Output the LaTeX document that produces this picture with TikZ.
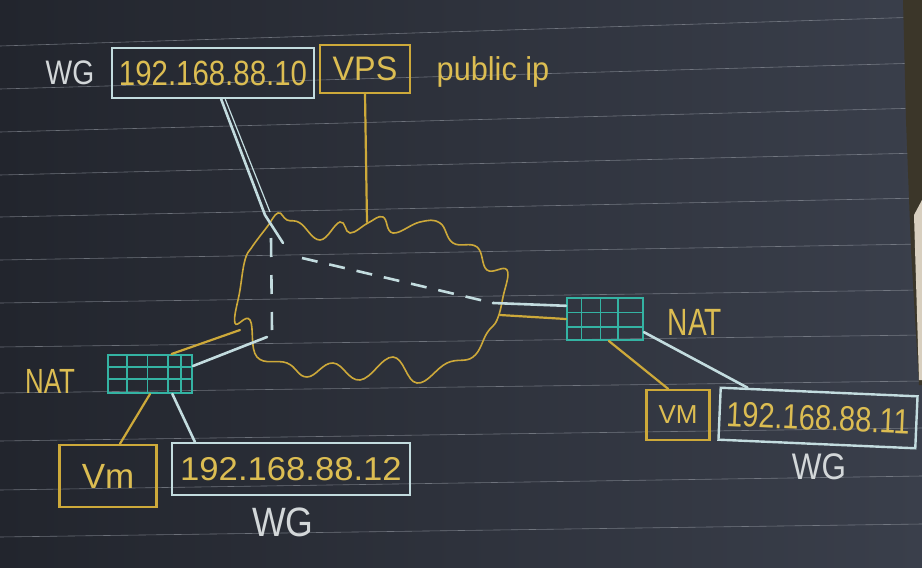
\documentclass[tikz,border=0pt]{standalone}
\usepackage{fontspec}
\usepackage{graphicx}
\setmainfont{Liberation Sans}
\usetikzlibrary{calc}
\definecolor{bgL}{HTML}{22252D}
\definecolor{bgR}{HTML}{3A3F4B}
\definecolor{ruleC}{HTML}{9A9FA8}
\definecolor{chalkY}{HTML}{CDA93A}
\definecolor{textY}{HTML}{DCBD52}
\definecolor{chalkB}{HTML}{C3DCDF}
\definecolor{chalkW}{HTML}{D3D7D9}
\definecolor{tealC}{HTML}{34B3A3}
\definecolor{edgeC}{HTML}{3B3629}
\definecolor{beigeC}{HTML}{D8CFBF}
\newcommand{\hs}[2]{\scalebox{#1}[1]{#2}}
\tikzset{
  ruled/.style={draw=ruleC, line width=0.6pt, opacity=0.6},
  ybox/.style={draw=chalkY, line width=2.2pt, inner sep=0pt, text=textY},
  bbox/.style={draw=chalkB, line width=2.4pt, inner sep=0pt, text=textY},
  ylab/.style={text=textY, inner sep=0pt},
  wlab/.style={text=chalkW, inner sep=0pt},
  yline/.style={draw=chalkY, line width=2.2pt, line cap=round},
  bline/.style={draw=chalkB, line width=2.6pt, line cap=round},
  natbox/.style={draw=tealC, line width=2pt, inner sep=0pt},
  natgrid/.style={draw=tealC, line width=1.6pt},
}
\begin{document}
\begin{tikzpicture}[x=1pt,y=-1pt]
\useasboundingbox (0,0) rectangle (922,568);
\shade[left color=bgL, right color=bgR] (0,0) rectangle (922,568);
% ruled lines
\foreach \a/\b in {46/17, 89/63, 132/108, 175/153, 217/198, 260/244, 303/290, 347/335, 393/381, 441/428, 490/476, 537/524}
  \path[ruled] (0,\a) -- (922,\b);
% paper edge
\fill[edgeC] (903,0) -- (922,0) -- (922,385) -- (919,385) -- (911,250) -- (906,120) -- cycle;
\fill[beigeC] (914,215) -- (922,200) -- (922,380) -- (919,380) -- cycle;

% top row
\node[wlab, font=\fontsize{34}{36}\selectfont] (wgtop) at (70,73) {\hs{0.83}{WG}};
\node[bbox, minimum width=202pt, minimum height=50pt, font=\fontsize{35}{36}\selectfont] (wg10) at (213,73) {\hs{0.84}{192.168.88.10}};
\node[ybox, minimum width=90pt, minimum height=48pt, font=\fontsize{34}{36}\selectfont] (vps) at (365,69) {\hs{0.95}{VPS}};
\node[ylab, font=\fontsize{33}{36}\selectfont] (pubip) at (493,72) {\hs{0.93}{public ip}};

% cloud
\draw[draw=chalkY, line width=1.6pt] plot[smooth cycle, tension=0.7] coordinates {
 (278,213) (267,227) (252,247) (245,260) (240,290) (235,323) (250,320) (257,357)
 (287,363) (307,377) (333,363) (360,380) (393,357) (417,383) (447,363) (473,357)
 (487,333) (497,320) (503,297) (507,270) (487,270) (477,247) (453,243) (440,223)
 (420,222) (393,233) (383,217) (368,223) (350,233) (340,222) (320,240) (300,223) (287,220)};
\coordinate (cTop) at (367,222);
\coordinate (cTL) at (283,243);
\coordinate (cTLbend) at (265,215);
\coordinate (cTLbend2) at (270,212);
\coordinate (cL1) at (240,330);
\coordinate (cL2) at (267,337);
\coordinate (cR1) at (493,303);
\coordinate (cR2) at (500,315);
\coordinate (dV1) at (271,238);
\coordinate (dV2) at (272,330);
\coordinate (dD1) at (302,258);

% NAT boxes
\node[natbox, minimum width=84pt, minimum height=38pt] (natL) at (150,374) {};
\foreach \f in {0.23,0.47,0.71,0.86}
  \draw[natgrid] ($(natL.north west)!\f!(natL.north east)$) -- ($(natL.south west)!\f!(natL.south east)$);
\foreach \f in {0.32,0.63}
  \draw[natgrid] ($(natL.north west)!\f!(natL.south west)$) -- ($(natL.north east)!\f!(natL.south east)$);
\node[natbox, minimum width=76pt, minimum height=42pt] (natR) at (605,319) {};
\foreach \f in {0.2,0.44,0.67}
  \draw[natgrid] ($(natR.north west)!\f!(natR.north east)$) -- ($(natR.south west)!\f!(natR.south east)$);
\foreach \f in {0.35,0.68}
  \draw[natgrid] ($(natR.north west)!\f!(natR.south west)$) -- ($(natR.north east)!\f!(natR.south east)$);
\node[ylab, font=\fontsize{35}{36}\selectfont] (natLt) at (50,381) {\hs{0.74}{NAT}};
\node[ylab, font=\fontsize{38}{40}\selectfont] (natRt) at (695,322) {\hs{0.74}{NAT}};

% bottom boxes
\node[ybox, minimum width=97pt, minimum height=62pt, font=\fontsize{35}{36}\selectfont] (vmL) at (108,476) {Vm};
\node[bbox, minimum width=238pt, minimum height=52pt, font=\fontsize{33}{36}\selectfont] (wg12) at (291,469) {\hs{1.05}{192.168.88.12}};
\node[wlab, font=\fontsize{41}{42}\selectfont] (wgL) at (283,522) {\hs{0.87}{WG}};
\node[ybox, minimum width=63pt, minimum height=50pt, font=\fontsize{26}{28}\selectfont] (vmR) at (678,415) {VM};
\node[bbox, minimum width=197pt, minimum height=52pt, rotate=-2.5, font=\fontsize{35}{36}\selectfont] (wg11) at (818,418) {\hs{0.83}{192.168.88.11}};
\node[wlab, font=\fontsize{37}{38}\selectfont] (wgR) at (819,467) {\hs{0.85}{WG}};

% connectors
\draw[bline] ($(wg10.south west)!0.54!(wg10.south east)$) -- (cTLbend) -- (cTL);
\draw[draw=chalkB, line width=1.2pt] ($(wg10.south west)!0.56!(wg10.south east)$) -- (cTLbend2);
\draw[yline] (vps.south) -- (cTop);
\draw[bline, line cap=butt, dash pattern=on 19pt off 18pt] (dV1) -- (dV2);
\draw[bline, line cap=butt, dash pattern=on 16pt off 12pt] (dD1) -- (cR1);
\draw[bline] ($(natL.north east)!0.3!(natL.south east)$) -- (cL2);
\draw[yline] ($(natL.north west)!0.75!(natL.north east)$) -- (cL1);
\draw[bline] ($(natR.north west)!0.2!(natR.south west)$) -- (cR1);
\draw[yline] ($(natR.north west)!0.5!(natR.south west)$) -- (cR2);
\draw[yline] ($(natR.south west)!0.55!(natR.south east)$) -- ($(vmR.north west)!0.35!(vmR.north east)$);
\draw[bline] ($(natR.south east)!0.2!(natR.north east)$) -- ($(wg11.north west)!0.14!(wg11.north east)$);
\draw[yline] ($(natL.south west)!0.5!(natL.south east)$) -- ($(vmL.north west)!0.62!(vmL.north east)$);
\draw[bline] ($(natL.south west)!0.76!(natL.south east)$) -- ($(wg12.north west)!0.1!(wg12.north east)$);
\end{tikzpicture}
\end{document}
